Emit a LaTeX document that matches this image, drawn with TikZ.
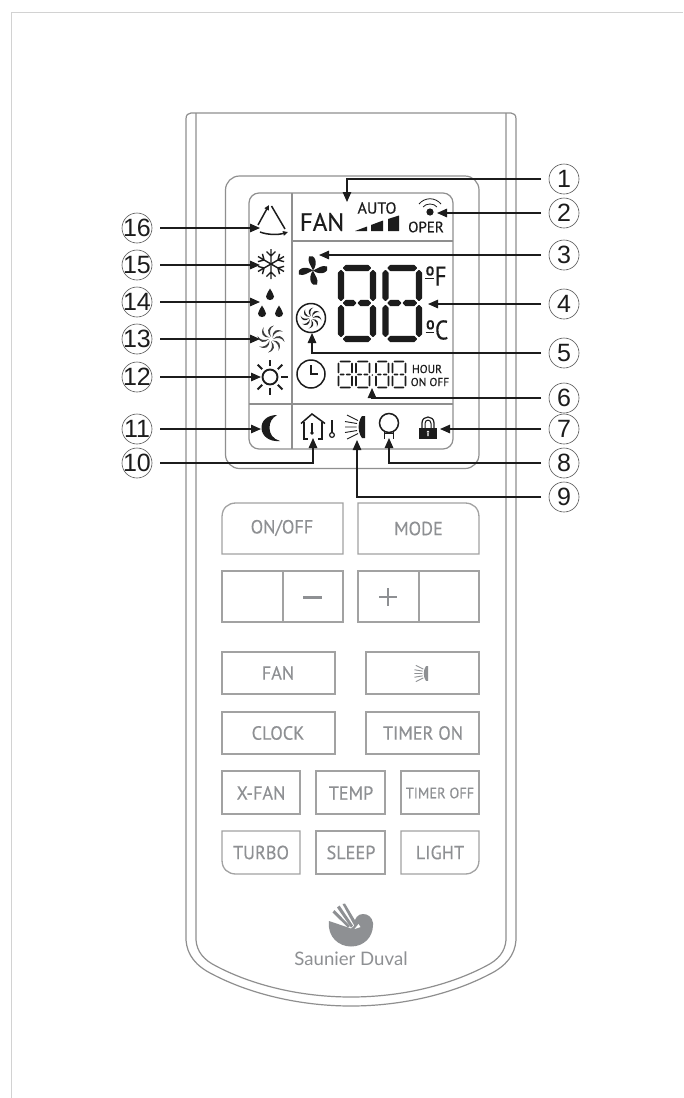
\documentclass[tikz,border=0pt]{standalone}
\usepackage{fontspec}
\setmainfont{PT Sans}
\newfontfamily\numfont{Liberation Sans}
\newfontfamily\logofont{Lato}
\newfontface\lcdfont{PT Sans}[FakeBold=0.35]
\newfontface\lcdnarrow{PT Sans}[FakeBold=0.25,FakeStretch=0.86]
\newfontface\btnfont{PT Sans}[FakeBold=0.25,FakeStretch=0.96]
\usetikzlibrary{arrows.meta}
\definecolor{framec}{HTML}{8F8F8F}
\definecolor{btnc}{HTML}{A2A2A2}
\definecolor{btntxt}{HTML}{8E9093}
\definecolor{pagec}{HTML}{D2D2D2}
\definecolor{ink}{HTML}{1C1C1C}
\tikzset{
  x=1pt,y=-1pt,
  frameline/.style={draw=framec,line width=1.2pt},
  btn/.style={draw=btnc,line width=1.3pt},
  btnlabel/.style={text=btntxt,font=\btnfont\fontsize{19}{19}\selectfont,inner sep=0},
  lcdlabel/.style={text=ink,inner sep=0},
  num/.style={circle,draw=ink!75,line width=0.6pt,minimum size=30pt,inner sep=0,
    outer sep=0},
  numtxt/.style={text=ink,inner sep=0,font=\numfont\fontsize{25}{25}\selectfont},
  conn/.style={draw=ink,line width=1.25pt,shorten <=8pt,-{Triangle[length=10pt,width=8.5pt]}},
  icon/.style={draw=ink,line width=1.5pt},
  segp/.style={fill=ink},
}
\newcommand{\hseg}[4]{\path[segp] (#1,#3)--(#1+#4,#3-#4)--(#2-#4,#3-#4)--(#2,#3)--(#2-#4,#3+#4)--(#1+#4,#3+#4)--cycle;}
\newcommand{\vseg}[4]{\path[segp] (#1,#2)--(#1+#4,#2+#4)--(#1+#4,#3-#4)--(#1,#3)--(#1-#4,#3-#4)--(#1-#4,#2+#4)--cycle;}
% xl xr xm yt ym yb t g
\newcommand{\sevenseg}[8]{%
  \hseg{#1+#8}{#2-#8}{#4}{#7}
  \hseg{#1+#8}{#3-#8*0.5}{#5}{#7}
  \hseg{#3+#8*0.5}{#2-#8}{#5}{#7}
  \hseg{#1+#8}{#2-#8}{#6}{#7}
  \vseg{#1}{#4+#8}{#5-#8}{#7}
  \vseg{#2}{#4+#8}{#5-#8}{#7}
  \vseg{#1}{#5+#8}{#6-#8}{#7}
  \vseg{#2}{#5+#8}{#6-#8}{#7}
}
\newcommand{\swirlicon}[4]{% cx cy R colour
  \foreach \a in {0,45,...,315}{
    \fill[#4,shift={(#1,#2)},rotate=\a,scale=#3]
      (0.15,0) .. controls (0.5,-0.36) and (0.88,-0.28) .. (1,0.22)
      .. controls (0.8,-0.1) and (0.5,-0.14) .. (0.15,0);
  }
}
\newcommand{\drop}[2]{\fill[ink] (#1,#2-6.5) .. controls (#1+1,#2-3.5) and (#1+4,#2-1.5) .. (#1+4,#2+1.5)
   .. controls (#1+4,#2+6.2) and (#1-4,#2+6.2) .. (#1-4,#2+1.5) .. controls (#1-4,#2-1.5) and (#1-1,#2-3.5) .. (#1,#2-6.5);}
\newcommand{\beamicon}[4]{% x y scale colour
  \begin{scope}[shift={(#1,#2)},scale=#3]
    \fill[#4] (3,-11) -- (6,-11) -- (6,11) -- (3,11) .. controls (-1.5,5) and (-1.5,-5) .. (3,-11);
    \draw[#4,line width=0.9pt]
      (-1,-6.5)--(-12,-12) (-2,-3.5)--(-14,-5.5) (-2.5,0)--(-14,0) (-2,3.5)--(-14,5.5) (-1,6.5)--(-12,12);
  \end{scope}
}
\begin{document}
\begin{tikzpicture}
\useasboundingbox (0,0) rectangle (683,1098);
\fill[white] (0,0) rectangle (683,1098);
% page frame
\draw[pagec,line width=1pt] (11,1098) -- (11,12) -- (683,12);

% body
\draw[frameline] (186,940) -- (186,119) .. controls (186,115) and (188,113) .. (191,113)
  -- (511,113) .. controls (514,113) and (516,115) .. (516,119) -- (516,940)
  .. controls (515,955) and (506,966) .. (490,974)
  .. controls (452,994) and (402,1006) .. (351,1006)
  .. controls (300,1006) and (250,994) .. (212,974)
  .. controls (196,966) and (187,955) .. (186,940) -- cycle;
\draw[frameline] (196,113) -- (196,940) .. controls (197,952) and (204,960) .. (216,966)
  .. controls (252,985) and (300,997) .. (351,997)
  .. controls (402,997) and (450,985) .. (486,966)
  .. controls (498,960) and (505,952) .. (506,940) -- (506,113);

% LCD frames
\draw[frameline,rounded corners=14pt] (225.5,176) rectangle (479,468.5);
\draw[frameline,rounded corners=10pt] (249,193) rectangle (453,449);
\draw[frameline] (292,193) -- (292,449) (292,241) -- (453,241) (249,404) -- (453,404);

% LCD texts
\node[lcdlabel,font=\lcdfont\fontsize{25}{25}\selectfont] (tfan) at (322,222) {FAN};
\node[lcdlabel,font=\lcdfont\fontsize{16}{16}\selectfont] (tauto) at (377,208) {AUTO};
\node[lcdlabel,font=\lcdfont\fontsize{15}{15}\selectfont] (toper) at (426,227) {OPER};
\node[lcdlabel,font=\lcdnarrow\fontsize{27}{27}\selectfont] (tdf) at (436,276) {ºF};
\node[lcdlabel,font=\lcdnarrow\fontsize{27}{27}\selectfont] (tdc) at (437,330) {ºC};
\draw[ink,line width=1.1pt] (425,278.5) -- (433.5,278.5) (425.5,332.5) -- (434,332.5);
\node[lcdlabel,font=\lcdfont\fontsize{11.5}{11.5}\selectfont] (thour) at (427,369) {HOUR};
\node[lcdlabel,font=\lcdfont\fontsize{11.5}{11.5}\selectfont] (tonoff) at (430,382) {ON OFF};

% signal bars
\fill[ink] (355,231) -- (367,226.5) -- (367,231) -- cycle;
\fill[ink] (371,225) -- (383,220.5) -- (383,231) -- (371,231) -- cycle;
\fill[ink] (388,219) -- (399,215.5) -- (399,231) -- (388,231) -- cycle;
% oper signal
\fill[ink] (430,212) circle[radius=3.6];
\draw[ink,line width=0.8pt] (423,207) .. controls (426,203) and (434,203) .. (437,207);
\draw[ink,line width=0.8pt] (419,204) .. controls (425,197) and (435,197) .. (441,204);

% digits
\begin{scope}[segp/.style={fill=ink,draw=ink,line width=1.4pt,line join=round}]
\sevenseg{341}{373}{357}{268}{303}{339}{2.4}{2.6}
\sevenseg{385.5}{419}{402}{268}{303}{339}{2.4}{2.6}
\end{scope}
\sevenseg{338.5}{352}{345.25}{361.5}{374.5}{387.5}{0.85}{1.2}
\sevenseg{356}{369.5}{362.75}{361.5}{374.5}{387.5}{0.85}{1.2}
\sevenseg{376}{388.5}{382.25}{361.5}{374.5}{387.5}{0.85}{1.2}
\sevenseg{392.5}{405.5}{399}{361.5}{374.5}{387.5}{0.85}{1.2}
\fill[ink] (372.3,375) circle[radius=0.8];

% fan
\foreach \a in {0,90,180,270}{
  \fill[ink,shift={(313,270.5)},rotate=\a]
    (0,0) .. controls (-2,-5) and (-6,-9) .. (-4,-14)
    .. controls (1,-17) and (6,-8) .. (0,0);
}
% swirl in circle
\draw[ink,line width=1.5pt] (311,318) circle[radius=14.5];
\swirlicon{311}{318}{10.5}{ink}
% clock
\draw[ink,line width=1.5pt] (311,374) circle[radius=14];
\draw[ink,line width=1.1pt] (311,365) -- (311,374) -- (318,374);

% left column icons
\draw[icon,-{Triangle[length=5pt,width=4.5pt]}] (258,225) -- (269,205);
\draw[icon] (271.5,206) -- (285,229);
\draw[icon,-{Triangle[length=5pt,width=4.5pt]}] (260,232) .. controls (268,235) and (278,235) .. (288,232);
% snowflake
\foreach \a in {0,60,...,300}{
  \begin{scope}[shift={(271,264)},rotate=\a]
    \draw[ink,line width=1.4pt] (0,0) -- (0,-15) (0,-8) -- (-4.5,-12.5) (0,-8) -- (4.5,-12.5);
  \end{scope}
}
% drops
\drop{270}{295}
\drop{262}{312}
\drop{279}{312}
% swirl
\swirlicon{271}{339}{13.5}{ink!85}
% sun
\draw[ink,line width=1.9pt] (270,377) circle[radius=7.5];
\foreach \a in {0,45,...,315}{
  \draw[ink,line width=2pt,shift={(270,377)},rotate=\a] (11,0) -- (17.5,0);
}
% moon
\fill[ink] (277,415) .. controls (267,415) and (261,421) .. (261.5,428.5)
  .. controls (262,436) and (269,442) .. (280,441)
  .. controls (273,439) and (269.5,434) .. (269.5,428)
  .. controls (269.5,422) and (272,418) .. (277,415) -- cycle;

% bottom icons
\draw[icon,line join=miter] (301,423.5) -- (312,414) -- (325,423.5);
\draw[icon] (304,421.5) -- (304,439) -- (308,439);
\draw[icon] (322,421.5) -- (322,439) -- (318,439);
\draw[ink,line width=1.2pt] (312,423) -- (312,432);
\fill[ink] (312,433) circle[radius=1.8];
\draw[ink,line width=1.2pt] (332,420) -- (332,432.5);
\draw[ink,line width=1.2pt] (332,435) circle[radius=2.4];
\beamicon{359}{427}{1}{ink}
\draw[icon] (389,423) circle[radius=9.5];
\draw[icon] (384.5,431) -- (384.5,439) (393.5,431) -- (393.5,439) (384.5,433.5) -- (393.5,433.5);
\fill[ink] (419,428) rectangle (437,438.5);
\draw[ink,line width=1.2pt] (422,428) -- (422,423) .. controls (422,415) and (434,415) .. (434,423) -- (434,428);
\draw[ink,line width=1pt] (425,428) -- (425,423.5) .. controls (425,419) and (431,419) .. (431,423.5) -- (431,428);
\fill[white] (428,432) circle[radius=1.4] (427.3,432) rectangle (428.7,436);

% buttons
\draw[btn] (222,554) -- (222,517) .. controls (222,508) and (228,503) .. (236,503) -- (343,503) -- (343,554) -- cycle;
\draw[btn] (358,554) -- (358,503) -- (465,503) .. controls (473,503) and (479,508) .. (479,517) -- (479,554) -- cycle;
\node[btnlabel] (bonoff) at (282,528) {ON/OFF};
\node[btnlabel] (bmode) at (418.5,528.5) {MODE};
\draw[btn] (222,571) rectangle (343,622) (283,571) -- (283,622);
\draw[btn] (358,571) rectangle (479,622) (419,571) -- (419,622);
\fill[btntxt] (303,595.5) rectangle (322,598.5);
\draw[btntxt,line width=2pt] (379,597) -- (397,597) (388,588) -- (388,606);

\draw[btn] (222,652) rectangle (335,694);
\draw[btn] (366,652) rectangle (479,694);
\node[btnlabel] (bfan) at (278,673) {FAN};
\beamicon{424}{673.5}{0.68}{btntxt}
\draw[btn] (222,712) rectangle (335,754);
\draw[btn] (366,712) rectangle (479,754);
\node[btnlabel] (bclock) at (278,733) {CLOCK};
\node[btnlabel] (btimeron) at (423,733) {TIMER ON};
\draw[btn] (222,771) rectangle (300,814);
\draw[btn] (316,771) rectangle (385,814);
\draw[btn] (401,771) rectangle (479,814);
\node[btnlabel] (bxfan) at (261,793) {X-FAN};
\node[btnlabel] (btemp) at (351,793) {TEMP};
\node[btnlabel,font=\btnfont\fontsize{15}{15}\selectfont] (btimeroff) at (440,793) {TIMER OFF};
\draw[btn] (222,831) -- (222,860) .. controls (222,869) and (228,874) .. (236,874) -- (300,874) -- (300,831) -- cycle;
\draw[btn] (316,831) rectangle (385,874);
\draw[btn] (401,831) -- (401,874) -- (465,874) .. controls (473,874) and (479,869) .. (479,860) -- (479,831) -- cycle;
\node[btnlabel] (bturbo) at (261,852.5) {TURBO};
\node[btnlabel] (bsleep) at (351,852.5) {SLEEP};
\node[btnlabel] (blight) at (440,852.5) {LIGHT};

% logo
\fill[btntxt] (329,921) .. controls (327,937) and (339,946.5) .. (351,946.5)
  .. controls (364,946.5) and (373,937) .. (373,925) -- (373,923)
  .. controls (372,917) and (368,914) .. (363,914) .. controls (358,914) and (354,918) .. (354,926)
  -- (351,928.5) -- cycle;
\fill[btntxt] (342.5,904) -- (345,903.5) -- (356,922) -- (354.5,926) -- cycle;
\fill[btntxt] (337,907.5) -- (339.5,905.5) -- (353,925.5) -- (351,927.5) -- cycle;
\fill[btntxt] (332.5,912.5) -- (334.5,910) -- (350,926) -- (348,927.5) -- cycle;
\fill[white] (354.5,929) -- (358.5,924) -- (360.5,927) -- cycle;
\node[text=btntxt,inner sep=0,font=\logofont\fontsize{18.6}{18.6}\selectfont] (tlogo) at (351,959) {Saunier Duval};

% numbered circles, right
\node[num,label={[numtxt]center:1}] (n1) at (564,179) {};
\node[num,label={[numtxt]center:2}] (n2) at (564,213) {};
\node[num,label={[numtxt]center:3}] (n3) at (564,255) {};
\node[num,label={[numtxt]center:4}] (n4) at (564,304) {};
\node[num,label={[numtxt]center:5}] (n5) at (564,353) {};
\node[num,label={[numtxt]center:6}] (n6) at (564,398) {};
\node[num,label={[numtxt]center:7}] (n7) at (564,429) {};
\node[num,label={[numtxt]center:8}] (n8) at (564,463) {};
\node[num,label={[numtxt]center:9}] (n9) at (564,497) {};
% left
\node[num,label={[numtxt]center:16}] (n16) at (137,228) {};
\node[num,label={[numtxt]center:15}] (n15) at (137,265) {};
\node[num,label={[numtxt]center:14}] (n14) at (137,302) {};
\node[num,label={[numtxt]center:13}] (n13) at (137,339) {};
\node[num,label={[numtxt]center:12}] (n12) at (137,377) {};
\node[num,label={[numtxt]center:11}] (n11) at (137,429) {};
\node[num,label={[numtxt]center:10}] (n10) at (137,463) {};

% connector targets
\coordinate (t1) at (347,202);
\coordinate (t2) at (437,213);
\coordinate (t3) at (319,255);
\coordinate (t4) at (428,304);
\coordinate (t5) at (312,333);
\coordinate (t6) at (372,388);
\coordinate (t7) at (440,429);
\coordinate (t8) at (389,438);
\coordinate (t9) at (357,440);
\coordinate (t10) at (313,438);
\coordinate (t11) at (261,429);
\coordinate (t12) at (261,377);
\coordinate (t13) at (260,339);
\coordinate (t14) at (260,302);
\coordinate (t15) at (260,265);
\coordinate (t16) at (260,228);

\draw[conn] (n1.west) -| (t1);
\draw[conn] (n2.west) -- (t2);
\draw[conn] (n3.west) -- (t3);
\draw[conn] (n4.west) -- (t4);
\draw[conn] (n5.west) -| (t5);
\draw[conn] (n6.west) -| (t6);
\draw[conn] (n7.west) -- (t7);
\draw[conn] (n8.west) -| (t8);
\draw[conn] (n9.west) -| (t9);
\draw[conn] (n10.east) -| (t10);
\draw[conn] (n11.east) -- (t11);
\draw[conn] (n12.east) -- (t12);
\draw[conn] (n13.east) -- (t13);
\draw[conn] (n14.east) -- (t14);
\draw[conn] (n15.east) -- (t15);
\draw[conn] (n16.east) -- (t16);
\end{tikzpicture}
\end{document}
